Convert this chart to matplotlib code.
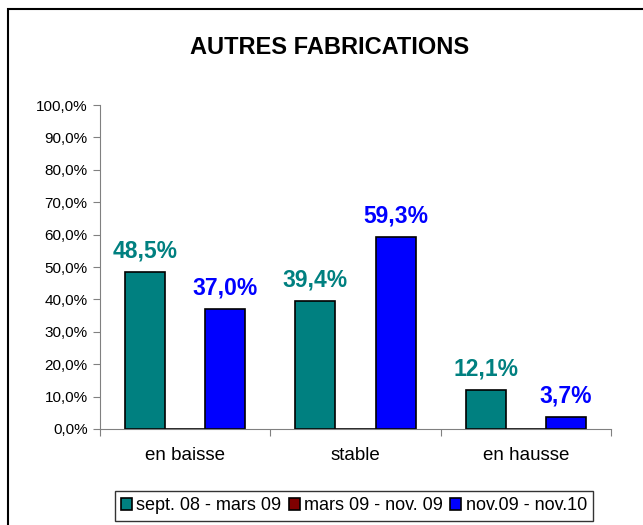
import matplotlib.pyplot as plt
import numpy as np
from matplotlib.patches import Rectangle

plt.rcParams['font.family'] = ['Liberation Sans', 'DejaVu Sans']

categories = ['en baisse', 'stable', 'en hausse']
series_names = ['sept. 08 - mars 09', 'mars 09 - nov. 09', 'nov.09 - nov.10']
sept08_mars09 = [48.5, 39.4, 12.1]
mars09_nov09 = [0, 0, 0]
nov09_nov10 = [37.0, 59.3, 3.7]
colors = ['#008080', '#800000', '#0000FF']

fig = plt.figure(figsize=(6.43, 5.25), dpi=100)
ax = fig.add_axes([100 / 643, 1 - 429 / 525, 511 / 643, 324 / 525])

# outer frame (cut off on right and bottom like the original)
fig.patches.append(Rectangle((8 / 643, -0.05), 1.1, 1 - 9 / 525 + 0.05,
                             transform=fig.transFigure, fill=False,
                             edgecolor='black', linewidth=1.5))

x = np.arange(len(categories))
w = 0.235
all_series = [sept08_mars09, mars09_nov09, nov09_nov10]
for i, (vals, name, c) in enumerate(zip(all_series, series_names, colors)):
    pos = x + (i - 1) * w
    ax.bar(pos, vals, w, color=c, edgecolor='black', linewidth=1.2, label=name)
    if i != 1:
        for p, v in zip(pos, vals):
            ax.text(p, v + 3.0, f'{v:.1f}%'.replace('.', ','), ha='center',
                    va='bottom', color=c, fontsize=16.5, fontweight='bold')

ax.set_xlim(-0.5, 2.5)
ax.set_ylim(0, 100)
ax.set_yticks(np.arange(0, 101, 10))
ax.set_yticklabels([f'{t:.1f}%'.replace('.', ',') for t in range(0, 101, 10)], fontsize=11)
ax.set_xticks([-0.5, 0.5, 1.5, 2.5])
ax.set_xticklabels([])
ax.set_xticks(x, minor=True)
ax.set_xticklabels(categories, minor=True, fontsize=13.5)
ax.tick_params(axis='x', which='minor', length=0, pad=13)
ax.tick_params(axis='x', which='major', length=5, color='#808080')
ax.tick_params(axis='y', length=5, color='#808080', pad=4)
for s in ['top', 'right']:
    ax.spines[s].set_visible(False)
for s in ['left', 'bottom']:
    ax.spines[s].set_color('#808080')

fig.text(330 / 643, 1 - 47 / 525, 'AUTRES FABRICATIONS', ha='center', va='center',
         fontsize=17, fontweight='bold')

leg = fig.legend(loc='center', bbox_to_anchor=(354 / 643, 1 - 506 / 525), ncol=3,
                 fontsize=13, frameon=True, fancybox=False, edgecolor='black',
                 handlelength=0.6, handleheight=0.6, handletextpad=0.25,
                 columnspacing=0.4, borderpad=0.35, borderaxespad=0)
leg.get_frame().set_linewidth(1.0)

fig.savefig('out.png', dpi=100)
